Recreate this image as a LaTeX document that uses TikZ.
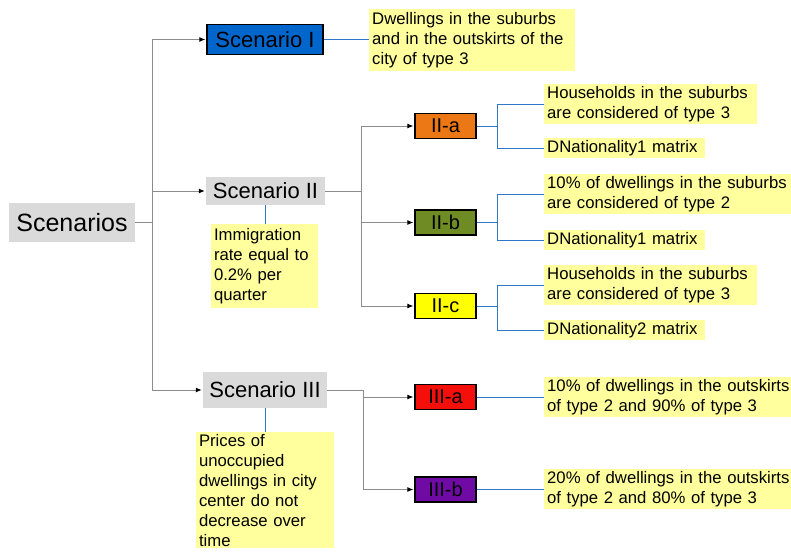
\documentclass[tikz,border=0pt]{standalone}
\usepackage{fontspec}
\setmainfont{Liberation Sans}
\setsansfont{Liberation Sans}
\usepackage{tikz}
\usetikzlibrary{arrows.meta,positioning}
\definecolor{boxgray}{RGB}{218,218,218}
\definecolor{noteyellow}{RGB}{255,255,158}
\definecolor{scenblue}{RGB}{0,102,204}
\definecolor{linegray}{RGB}{140,140,140}
\definecolor{linkblue}{RGB}{45,120,200}
\definecolor{orangeIIa}{RGB}{235,120,20}
\definecolor{greenIIb}{RGB}{110,140,35}
\definecolor{yellowIIc}{RGB}{255,255,0}
\definecolor{redIIIa}{RGB}{245,15,10}
\definecolor{purpleIIIb}{RGB}{112,10,165}
\tikzset{
  basic/.style   = {inner sep=0pt, font=\sffamily},
  root/.style    = {basic, fill=boxgray, minimum width=126pt, minimum height=39pt,
                    font=\sffamily\fontsize{25}{30}\selectfont},
  scen/.style    = {basic, font=\sffamily\fontsize{22}{26}\selectfont},
  variant/.style = {basic, draw, line width=1.2pt, minimum width=61pt, minimum height=25pt,
                    font=\sffamily\fontsize{20}{24}\selectfont},
  note/.style    = {basic, fill=noteyellow, align=left, inner xsep=3pt, inner ysep=2pt,
                    font=\sffamily\fontsize{16.7}{20}\selectfont},
  tree/.style    = {draw=linegray, line width=1pt},
  link/.style    = {draw=linkblue, line width=1pt}
}
\begin{document}
\begin{tikzpicture}[x=1pt,y=-1pt,>={Latex[length=6pt,width=5pt,color=black]}]
\useasboundingbox (0,0) rectangle (791,552);

% scenarios and their variants
\node[root] (sc) at (72,222.5) {Scenarios};
\node[scen, draw, line width=1.2pt, fill=scenblue, minimum width=116pt, minimum height=30pt] (s1) at (265,39.5) {Scenario I};
\node[scen, fill=boxgray, minimum width=119pt, minimum height=28pt] (s2) at (265.5,191) {Scenario II};
\node[scen, fill=boxgray, minimum width=124pt, minimum height=36pt] (s3) at (265,390) {Scenario III};

\node[variant, fill=orangeIIa]  (IIa)  at (445.5,126)   {II-a};
\node[variant, fill=greenIIb]   (IIb)  at (445.5,222.5) {II-b};
\node[variant, fill=yellowIIc]  (IIc)  at (445.5,306)   {II-c};
\node[variant, fill=redIIIa]    (IIIa) at (445.5,397)   {III-a};
\node[variant, fill=purpleIIIb] (IIIb) at (445.5,489.5) {III-b};

% notes
\node[note, text width=200pt, inner ysep=3pt, anchor=north west] (n1) at (369,9) {Dwellings in the suburbs\\and in the outskirts of the\\city of type 3};
\node[note, text width=101pt, inner ysep=4pt, anchor=north] (n2) at (264.5,224) {Immigration\\rate equal to\\0.2\% per\\quarter};
\node[note, text width=132pt, anchor=north] (n3) at (265,432) {Prices of\\unoccupied\\dwellings in city\\center do not\\decrease over\\time};

\node[note, text width=207pt, anchor=west] (a1) at (544,104) {Households in the suburbs\\are considered of type 3};
\node[note, text width=155pt, anchor=west] (a2) at (544,148) {DNationality1 matrix};
\node[note, text width=250pt, anchor=west] (b1) at (544,194) {10\% of dwellings in the suburbs\\are considered of type 2};
\node[note, text width=155pt, anchor=west] (b2) at (544,240) {DNationality1 matrix};
\node[note, text width=207pt, anchor=west] (c1) at (544,285) {Households in the suburbs\\are considered of type 3};
\node[note, text width=155pt, anchor=west] (c2) at (544,330) {DNationality2 matrix};
\node[note, text width=250pt, anchor=west] (d1) at (544,397) {10\% of dwellings in the outskirts\\of type 2 and 90\% of type 3};
\node[note, text width=250pt, anchor=west] (e1) at (544,489) {20\% of dwellings in the outskirts\\of type 2 and 80\% of type 3};

% tree connectors
\draw[tree] (sc.east) -- ++(17,0) coordinate (t1);
\foreach \s in {s1,s2,s3}
  \draw[tree,->,shorten >=1pt] (t1) |- (\s.west);
\draw[tree] (s2.east) -- ++(36.5,0) coordinate (t2);
\foreach \v in {IIa,IIb,IIc}
  \draw[tree,->,shorten >=1pt] (t2) |- (\v.west);
\draw[tree] (s3.east) -- ++(36,0) coordinate (t3);
\foreach \v in {IIIa,IIIb}
  \draw[tree,->,shorten >=1pt] (t3) |- (\v.west);

% note links
\draw[link] (s1.east) -- (s1.east -| n1.west);
\draw[link] (s2.south) -- (s2.south |- n2.north);
\draw[link] (s3.south) -- (s3.south |- n3.north);
\foreach \v/\a/\b in {IIa/a1/a2, IIb/b1/b2, IIc/c1/c2} {
  \draw[link] (\v.east) -- ++(21,0) coordinate (k);
  \draw[link] (k) |- (\a.west);
  \draw[link] (k) |- (\b.west);
}
\draw[link] (IIIa.east) -- (IIIa.east -| d1.west);
\draw[link] (IIIb.east) -- (IIIb.east -| e1.west);

\end{tikzpicture}
\end{document}
